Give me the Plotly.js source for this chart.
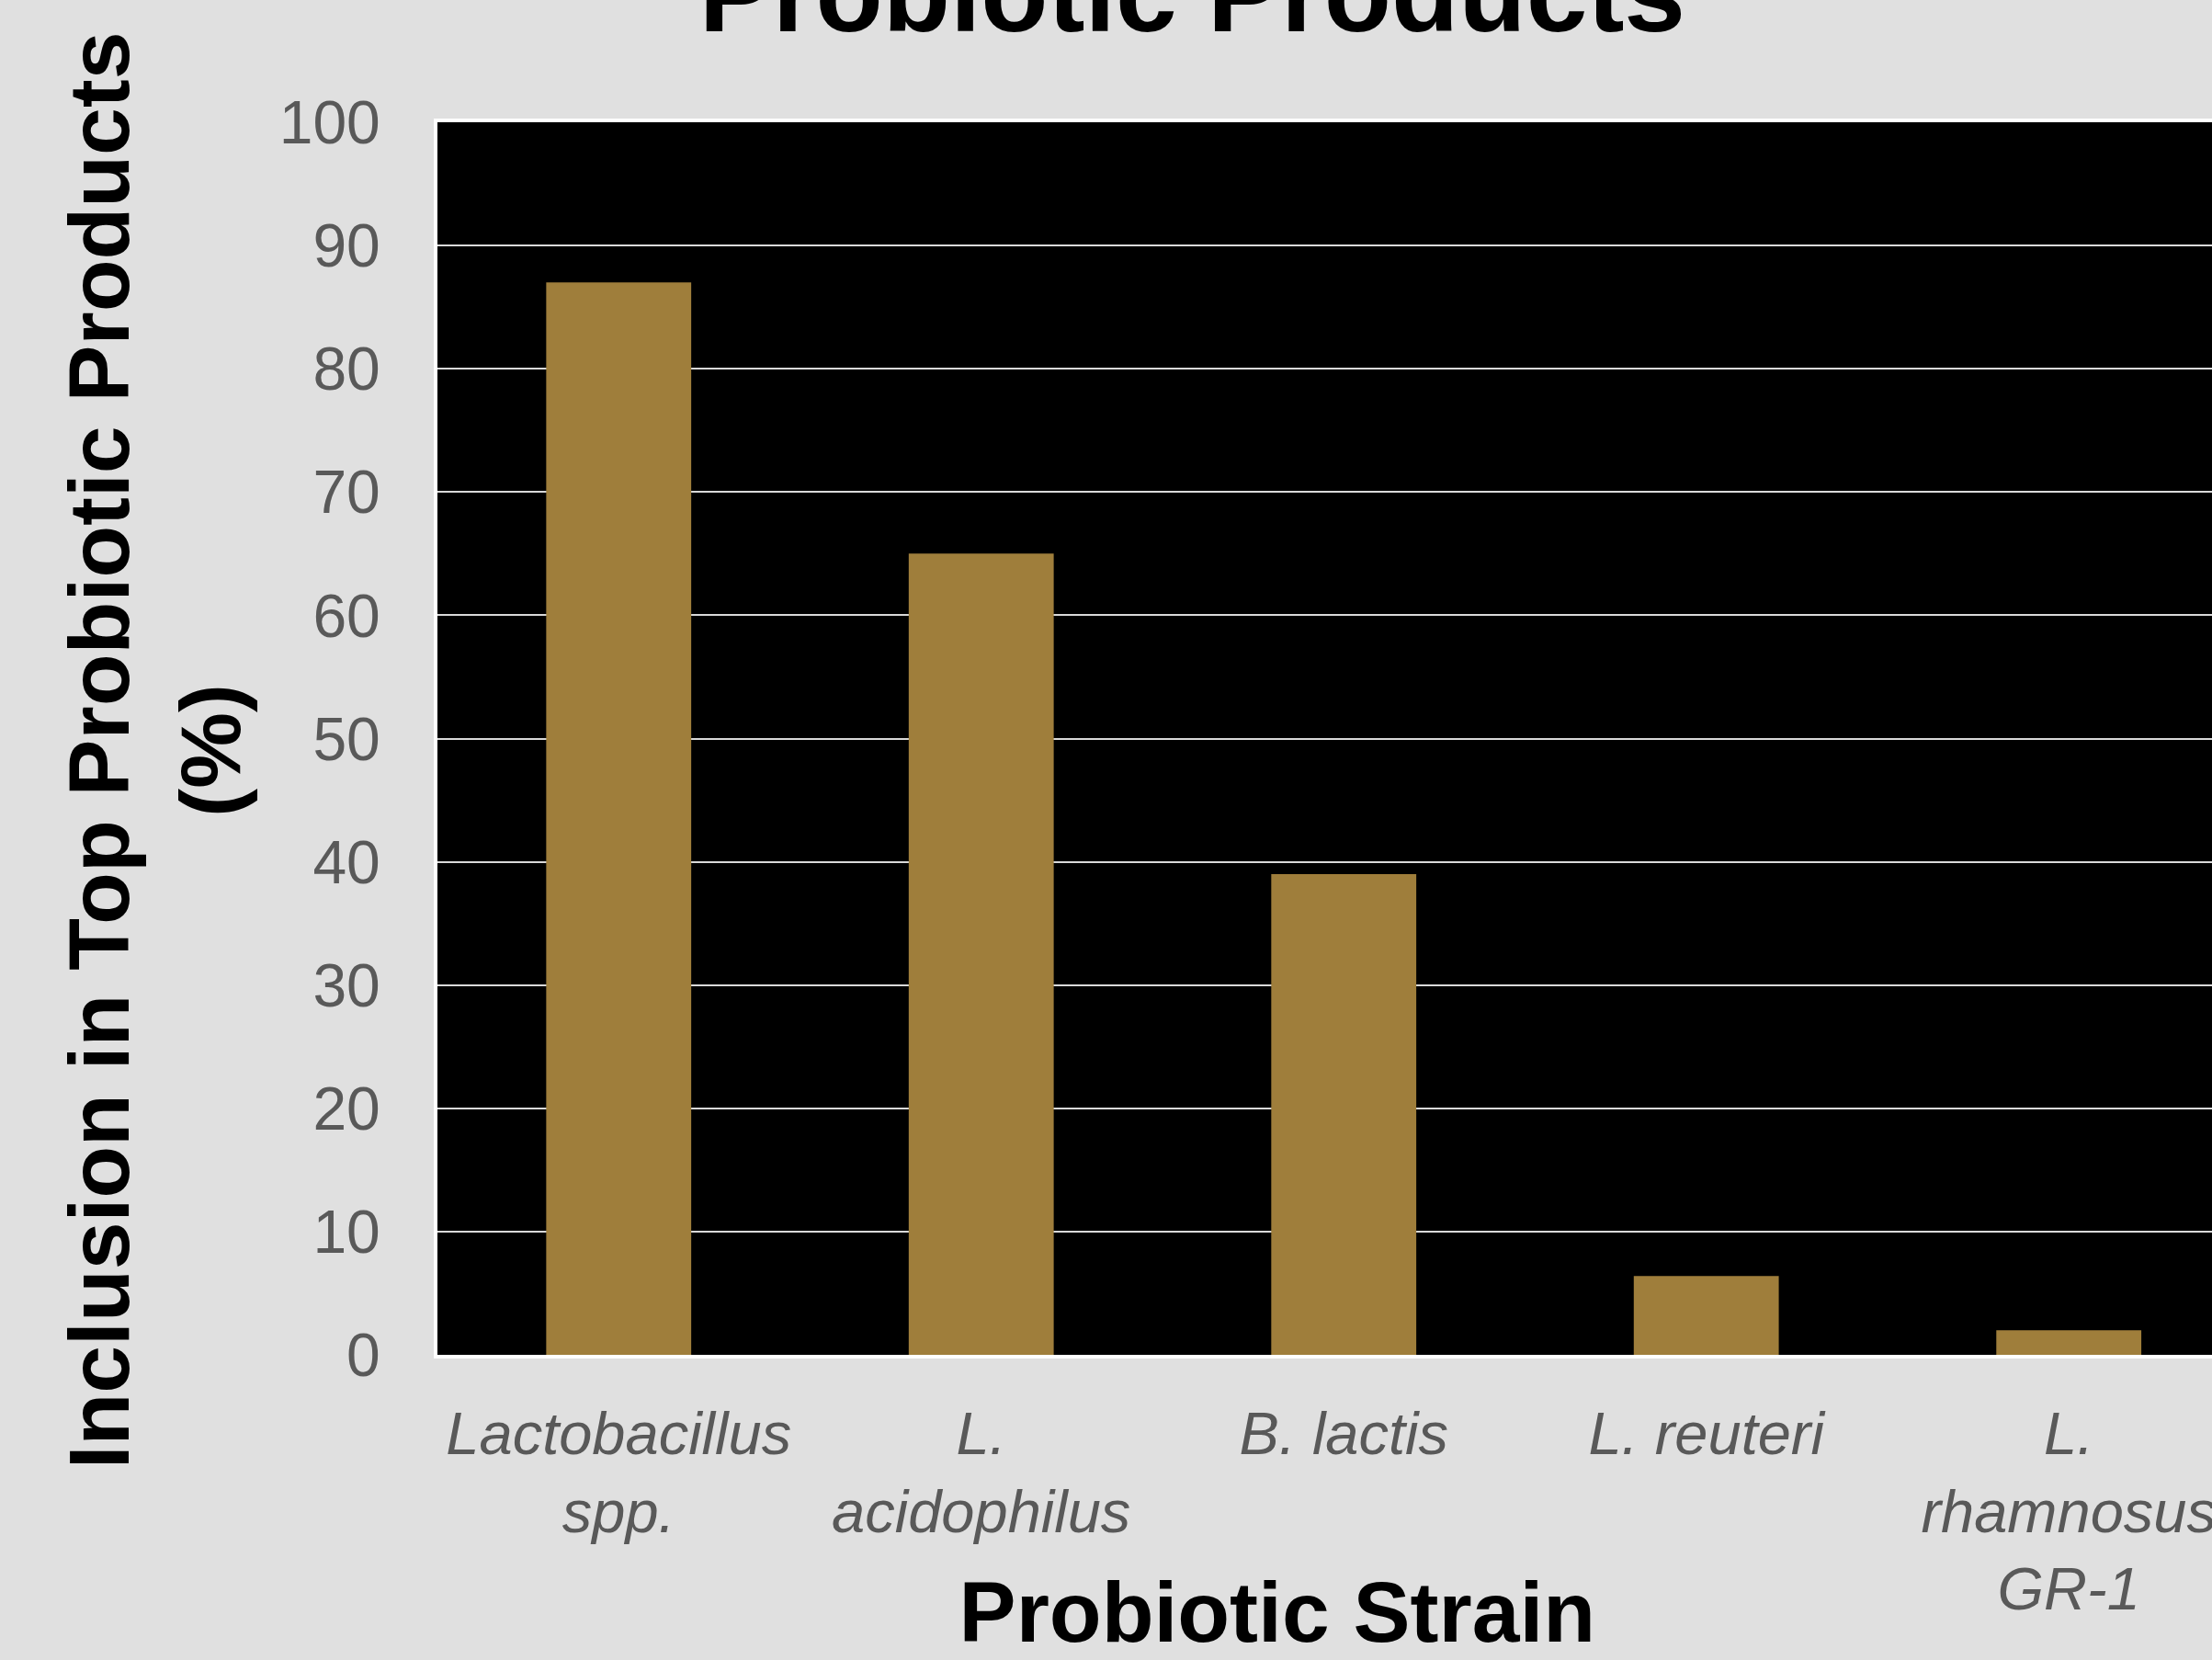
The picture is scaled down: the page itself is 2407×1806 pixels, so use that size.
<!DOCTYPE html>
<html>
<head>
<meta charset="utf-8">
<script src="https://cdn.plot.ly/plotly-3.0.1.min.js"></script>
<style>
  html, body { margin: 0; padding: 0; background: #E0E0E0; }
  #chart { width: 2407px; height: 1806px; }
</style>
</head>
<body>
<div id="chart"></div>
<script>
const strains = ["Lactobacillus<br>spp.", "L.<br>acidophilus", "B. lactis", "L. reuteri", "L.<br>rhamnosus<br>GR-1"];
const inclusionPct = [87, 65, 39, 6.4, 2];
const yTickValues = [0, 10, 20, 30, 40, 50, 60, 70, 80, 90, 100];

const chartTitle = "Probiotic Products";
const xTitle = "Probiotic Strain&nbsp;&nbsp;&nbsp;&nbsp;";
const yTitle = "Inclusion in Top Probiotic Products&nbsp;<br>(%)&nbsp;";

const FONT = "Liberation Sans, Arial, sans-serif";

const trace = {
  type: "bar",
  x: [0, 1, 2, 3, 4],
  y: inclusionPct,
  width: 0.4,
  marker: { color: "#9F7E3B", line: { width: 0 } },
  hoverinfo: "x+y"
};

const layout = {
  width: 2407,
  height: 1806,
  paper_bgcolor: "#E0E0E0",
  plot_bgcolor: "#000000",
  showlegend: false,
  margin: { l: 476, r: 0, t: 133, b: 332, autoexpand: false },
  title: {
    text: chartTitle,
    font: { family: FONT, size: 120, color: "#000000", weight: "bold" },
    xref: "container", x: 0.539, xanchor: "center",
    yref: "container", y: 0.9812, yanchor: "bottom"
  },
  xaxis: {
    type: "linear",
    range: [-0.5, 4.395],
    tickmode: "array",
    tickvals: [0, 1, 2, 3, 4],
    ticktext: strains,
    ticks: "",
    ticklabelstandoff: 26,
    ticklabeloverflow: "allow",
    tickfont: { family: FONT, size: 65, color: "#595959", style: "italic" },
    showgrid: false,
    zeroline: false,
    showline: true,
    linecolor: "#FFFFFF",
    linewidth: 4,
    mirror: true,
    automargin: false,
    title: {
      text: xTitle,
      font: { family: FONT, size: 93, color: "#000000", weight: "bold" },
      standoff: 80
    }
  },
  yaxis: {
    range: [0, 100],
    tickmode: "array",
    tickvals: yTickValues,
    ticks: "",
    ticklabelstandoff: 45,
    tickfont: { family: FONT, size: 66, color: "#595959" },
    showgrid: true,
    gridcolor: "#D9D9D9",
    gridwidth: 2,
    zeroline: false,
    showline: true,
    linecolor: "#FFFFFF",
    linewidth: 4,
    automargin: false,
    title: {
      text: yTitle,
      font: { family: FONT, size: 93, color: "#000000", weight: "bold" },
      standoff: 12
    }
  }
};

Plotly.newPlot("chart", [trace], layout, { staticPlot: true, displayModeBar: false });
</script>
</body>
</html>
